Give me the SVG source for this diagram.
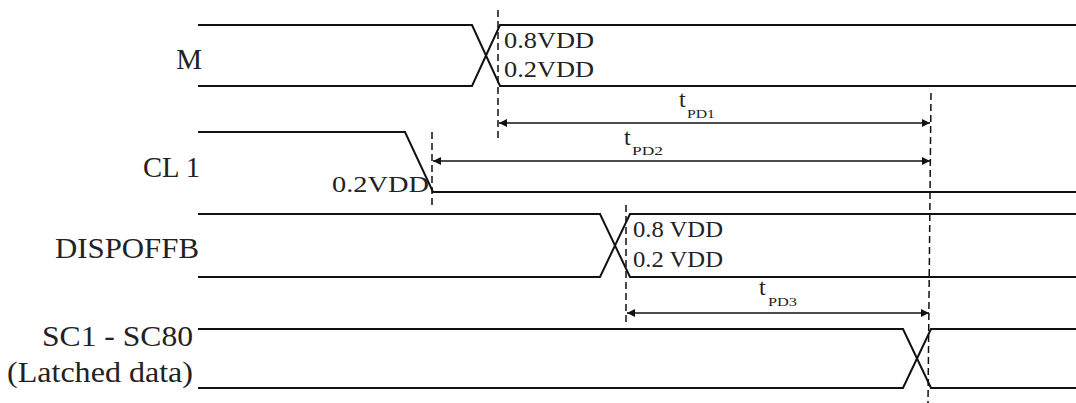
<svg xmlns="http://www.w3.org/2000/svg" width="1076" height="403" viewBox="0 0 1076 403">
<style>
.sig{fill:none;stroke:#111;stroke-width:2}
.dash{fill:none;stroke:#111;stroke-width:1.5;stroke-dasharray:7 4}
.dim{fill:none;stroke:#111;stroke-width:1.5}
.lbl{font-size:29px}
.lv{font-size:23px}
.t{font-size:24px}
.sub{font-size:13px}
</style>
<defs>
<marker id="ah" viewBox="0 0 10 10" refX="10" refY="5" markerWidth="8" markerHeight="8" markerUnits="userSpaceOnUse" orient="auto-start-reverse">
<path d="M0,0 L10,5 L0,10 Z" fill="#111"/>
</marker>
</defs>
<rect width="1076" height="403" fill="#fff"/>
<g font-family="Liberation Serif, DejaVu Serif, Times New Roman, serif" fill="#222">
<g id="M">
<text class="lbl" x="202" y="69" text-anchor="end">M</text>
<path class="sig" d="M198,25 H472 L500,86 H1076"/>
<path class="sig" d="M198,86 H472 L500,25 H1076"/>
<text class="lv" x="504" y="48" textLength="90" lengthAdjust="spacingAndGlyphs">0.8VDD</text>
<text class="lv" x="504" y="77" textLength="90" lengthAdjust="spacingAndGlyphs">0.2VDD</text>
</g>
<g id="CL1">
<text class="lbl" x="200" y="177" text-anchor="end" textLength="57" lengthAdjust="spacingAndGlyphs">CL 1</text>
<path class="sig" d="M198,132 H405 L433,192 H1076"/>
<text class="lv" x="332" y="192" textLength="97" lengthAdjust="spacingAndGlyphs">0.2VDD</text>
</g>
<g id="DISPOFFB">
<text class="lbl" x="55" y="258" textLength="144" lengthAdjust="spacingAndGlyphs">DISPOFFB</text>
<path class="sig" d="M198,214 H600 L630,277 H1076"/>
<path class="sig" d="M198,277 H600 L630,214 H1076"/>
<text class="lv" x="633" y="237" textLength="90" lengthAdjust="spacingAndGlyphs">0.8 VDD</text>
<text class="lv" x="633" y="267" textLength="90" lengthAdjust="spacingAndGlyphs">0.2 VDD</text>
</g>
<g id="SC">
<text class="lbl" x="193" y="346" text-anchor="end" textLength="151" lengthAdjust="spacingAndGlyphs">SC1 - SC80</text>
<text class="lbl" x="193" y="382" text-anchor="end" textLength="186" lengthAdjust="spacingAndGlyphs">(Latched data)</text>
<path class="sig" d="M198,329 H903 L931,388 H1076"/>
<path class="sig" d="M198,388 H903 L931,329 H1076"/>
</g>
<g id="connectors">
<line class="dash" x1="498" y1="10" x2="498" y2="140"/>
<line class="dash" x1="432" y1="132" x2="432" y2="208"/>
<line class="dash" x1="626" y1="205" x2="626" y2="322"/>
<line class="dash" x1="931" y1="93" x2="928" y2="403"/>
<line class="dim" x1="499" y1="123" x2="930" y2="123" marker-start="url(#ah)" marker-end="url(#ah)"/>
<line class="dim" x1="433" y1="161" x2="930" y2="161" marker-start="url(#ah)" marker-end="url(#ah)"/>
<line class="dim" x1="627" y1="313" x2="929" y2="313" marker-start="url(#ah)" marker-end="url(#ah)"/>
</g>
<g id="labels">
<text class="t" x="679" y="107">t</text><text class="sub" x="687" y="118" textLength="28" lengthAdjust="spacingAndGlyphs">PD1</text>
<text class="t" x="624" y="145">t</text><text class="sub" x="632" y="155" textLength="31" lengthAdjust="spacingAndGlyphs">PD2</text>
<text class="t" x="759" y="295">t</text><text class="sub" x="768" y="306" textLength="29" lengthAdjust="spacingAndGlyphs">PD3</text>
</g>
</g>
</svg>
